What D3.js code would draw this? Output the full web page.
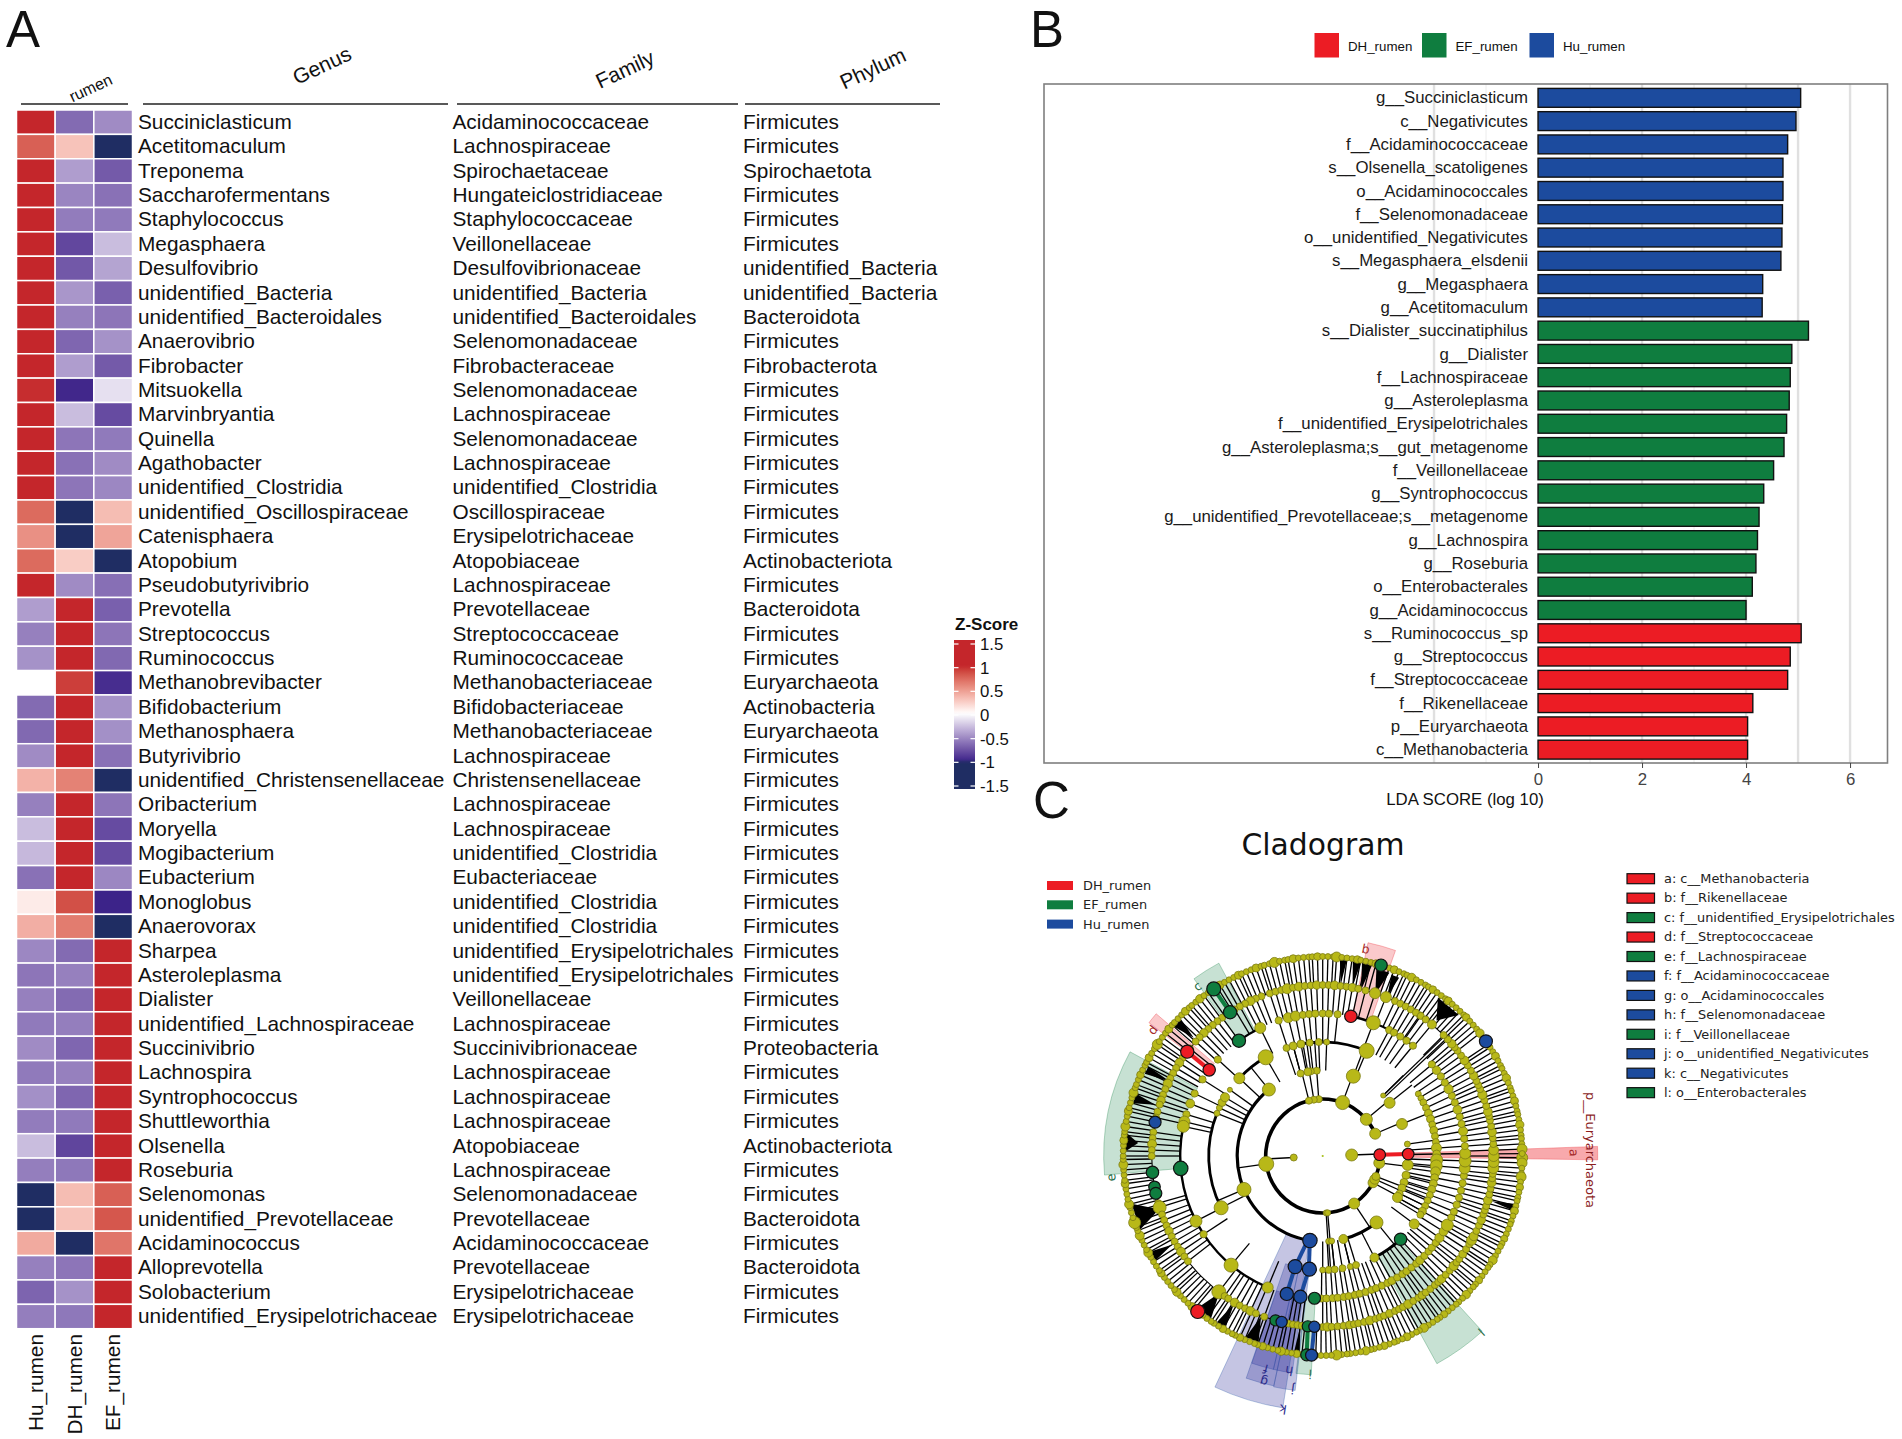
<!DOCTYPE html>
<html><head><meta charset="utf-8">
<script src="https://d3js.org/d3.v7.min.js"></script>
<style>html,body{margin:0;padding:0;background:#fff}svg{display:block}text{font-family:"Liberation Sans",Arial,sans-serif;fill:#111}.dv{font-family:"DejaVu Sans",sans-serif}</style>
</head><body><svg id="c" width="1902" height="1439"></svg>
<script>
// ---------- Panel A data ----------
const samples=["Hu_rumen","DH_rumen","EF_rumen"];
const genus=["Succiniclasticum","Acetitomaculum","Treponema","Saccharofermentans","Staphylococcus","Megasphaera","Desulfovibrio","unidentified_Bacteria","unidentified_Bacteroidales","Anaerovibrio","Fibrobacter","Mitsuokella","Marvinbryantia","Quinella","Agathobacter","unidentified_Clostridia","unidentified_Oscillospiraceae","Catenisphaera","Atopobium","Pseudobutyrivibrio","Prevotella","Streptococcus","Ruminococcus","Methanobrevibacter","Bifidobacterium","Methanosphaera","Butyrivibrio","unidentified_Christensenellaceae","Oribacterium","Moryella","Mogibacterium","Eubacterium","Monoglobus","Anaerovorax","Sharpea","Asteroleplasma","Dialister","unidentified_Lachnospiraceae","Succinivibrio","Lachnospira","Syntrophococcus","Shuttleworthia","Olsenella","Roseburia","Selenomonas","unidentified_Prevotellaceae","Acidaminococcus","Alloprevotella","Solobacterium","unidentified_Erysipelotrichaceae"];
const family=["Acidaminococcaceae","Lachnospiraceae","Spirochaetaceae","Hungateiclostridiaceae","Staphylococcaceae","Veillonellaceae","Desulfovibrionaceae","unidentified_Bacteria","unidentified_Bacteroidales","Selenomonadaceae","Fibrobacteraceae","Selenomonadaceae","Lachnospiraceae","Selenomonadaceae","Lachnospiraceae","unidentified_Clostridia","Oscillospiraceae","Erysipelotrichaceae","Atopobiaceae","Lachnospiraceae","Prevotellaceae","Streptococcaceae","Ruminococcaceae","Methanobacteriaceae","Bifidobacteriaceae","Methanobacteriaceae","Lachnospiraceae","Christensenellaceae","Lachnospiraceae","Lachnospiraceae","unidentified_Clostridia","Eubacteriaceae","unidentified_Clostridia","unidentified_Clostridia","unidentified_Erysipelotrichales","unidentified_Erysipelotrichales","Veillonellaceae","Lachnospiraceae","Succinivibrionaceae","Lachnospiraceae","Lachnospiraceae","Lachnospiraceae","Atopobiaceae","Lachnospiraceae","Selenomonadaceae","Prevotellaceae","Acidaminococcaceae","Prevotellaceae","Erysipelotrichaceae","Erysipelotrichaceae"];
const phylum=["Firmicutes","Firmicutes","Spirochaetota","Firmicutes","Firmicutes","Firmicutes","unidentified_Bacteria","unidentified_Bacteria","Bacteroidota","Firmicutes","Fibrobacterota","Firmicutes","Firmicutes","Firmicutes","Firmicutes","Firmicutes","Firmicutes","Firmicutes","Actinobacteriota","Firmicutes","Bacteroidota","Firmicutes","Firmicutes","Euryarchaeota","Actinobacteria","Euryarchaeota","Firmicutes","Firmicutes","Firmicutes","Firmicutes","Firmicutes","Firmicutes","Firmicutes","Firmicutes","Firmicutes","Firmicutes","Firmicutes","Firmicutes","Proteobacteria","Firmicutes","Firmicutes","Firmicutes","Actinobacteriota","Firmicutes","Firmicutes","Bacteroidota","Firmicutes","Bacteroidota","Firmicutes","Firmicutes"];
const huZ=[1.15,.78,1.15,1.15,1.15,1.1,1.13,1.15,1.15,1.14,1.15,.98,1.05,1.15,1.15,1.15,.73,.55,.73,1.15,-.42,-.55,-.47,0,-.65,-.66,-.5,.38,-.55,-.28,-.3,-.62,.1,.4,-.52,-.6,-.55,-.58,-.5,-.58,-.48,-.57,-.28,-.56,-1.15,-1.15,.42,-.55,-.68,-.56];
const dhZ=[-.65,.3,-.42,-.53,-.57,-.82,-.74,-.45,-.55,-.67,-.42,-.98,-.28,-.6,-.62,-.6,-1.15,-1.15,.25,-.5,1.15,1.15,1.15,.92,1.15,1.15,1.15,.62,1.15,1.08,1.08,1.15,.85,.65,-.65,-.55,-.65,-.56,-.67,-.55,-.67,-.58,-.83,-.59,.33,.3,-1.15,-.6,-.47,-.59];
const efZ=[-.5,-1.15,-.73,-.62,-.58,-.28,-.39,-.7,-.6,-.47,-.73,-.13,-.8,-.58,-.5,-.52,.33,.45,-1.15,-.63,-.7,-.6,-.66,-.95,-.47,-.48,-.62,-1.15,-.6,-.8,-.8,-.52,-1.0,-1.15,1.15,1.15,1.15,1.15,1.15,1.15,1.15,1.15,1.1,1.15,.78,.82,.68,1.15,1.15,1.15];
const zTicks=[1.5,1,.5,0,-.5,-1,-1.5];
// ---------- Panel B data ----------
const ldaNames=["g__Succiniclasticum","c__Negativicutes","f__Acidaminococcaceae","s__Olsenella_scatoligenes","o__Acidaminococcales","f__Selenomonadaceae","o__unidentified_Negativicutes","s__Megasphaera_elsdenii","g__Megasphaera","g__Acetitomaculum","s__Dialister_succinatiphilus","g__Dialister","f__Lachnospiraceae","g__Asteroleplasma","f__unidentified_Erysipelotrichales","g__Asteroleplasma;s__gut_metagenome","f__Veillonellaceae","g__Syntrophococcus","g__unidentified_Prevotellaceae;s__metagenome","g__Lachnospira","g__Roseburia","o__Enterobacterales","g__Acidaminococcus","s__Ruminococcus_sp","g__Streptococcus","f__Streptococcaceae","f__Rikenellaceae","p__Euryarchaeota","c__Methanobacteria"];
const ldaVals=[5.05,4.96,4.80,4.71,4.71,4.70,4.69,4.67,4.32,4.31,5.2,4.88,4.85,4.83,4.78,4.73,4.53,4.34,4.25,4.22,4.19,4.12,4.0,5.06,4.85,4.80,4.13,4.03,4.03];
const ldaGroup=["Hu","Hu","Hu","Hu","Hu","Hu","Hu","Hu","Hu","Hu","EF","EF","EF","EF","EF","EF","EF","EF","EF","EF","EF","EF","EF","DH","DH","DH","DH","DH","DH"];
const groups=["DH","EF","Hu"];
const groupNames=["DH_rumen","EF_rumen","Hu_rumen"];
const groupColors=["#ec1c24","#0f7d3f","#1c4b9e"];
const gridVals=[-2,-1,1,2,3,4,5,6];
// ---------- Panel C data (angles in degrees, clockwise from east) ----------
const cladeLetters=["a","b","c","d","e","f","g","h","i","j","k","l"];
const cladeNames=["c__Methanobacteria","f__Rikenellaceae","f__unidentified_Erysipelotrichales","f__Streptococcaceae","f__Lachnospiraceae","f__Acidaminococcaceae","o__Acidaminococcales","f__Selenomonadaceae","f__Veillonellaceae","o__unidentified_Negativicutes","c__Negativicutes","o__Enterobacterales"];
const cladeGroup=["DH","DH","EF","DH","EF","Hu","Hu","Hu","EF","Hu","Hu","EF"];
const cladeFrom=[358,282,234,217.5,175,103,102,98,93,96.7,99,47.7];
const cladeTo=[360.8,289.5,241.7,220.5,208.4,108.9,109,103,97,102,115,61.2];
const cladeInner=[85.5,142.5,142.5,142.5,142.5,142.5,114,142.5,142.5,114,85.5,114];
const cladeOuter=[275,218,219,219,219,219,235,219,219,236,255,237];
const cladeOpacity=[.38,.24,.23,.24,.23,.27,.27,.27,.23,.27,.27,.23];
const cladeLabelR=[247,210,209,209,208,213,226,210,211,228,249,230];
const cladeLabelA=[358.6,281.6,234.1,217.2,175,105.2,104.8,99,93.3,97.4,99,47.5];
const ringR=[29,57,85.5,114,142.5,171,199.5];
const ringArcs=[[57,7,337,3.6],[85.5,98.6,231,3.2],[85.5,51,76,3.2],[114,153,202,2.8],[114,223,240,2.8],[114,251,293,2.8],[114,47,63,2.8],[114,0,31,1],[142.5,112.7,192,2.4],[142.5,281.4,290.8,2.6],[142.5,290.8,309,2],[142.5,234,244,2.2],[142.5,40,90,1.2],[142.5,320,400,1],[171,0,360,1.1]];
const l1Ang=[358,177], l1Size=[6,3.5];
const l2Ang=[337,320,290.4,266,261,256,172,86.5,85,56.5,28,24,21,7], l2Size=[5.5,6,7,3.5,3.5,3.5,7.5,3,3,5.5,5,5,4,5.5];
const l3Ang=[352,338,321.5,315,291,266,262,260,255,231,157,86,84,76,51,6,13,18,22,26,29], l3Size=[3,5.5,5.5,2.5,7,3.5,3.5,4,3.5,6.5,7,3,3,4.5,6.5,5.5,4,4,4,3.5,5];
const l4Ang=[327,329.5,332,335,338,341,344,347,350,353,356,359,2,5,8,11,14,17,20,23,26,29,31,36.6,63,90,87,84,80,76,73,153,202,205,208,211,215.5,223,240,251.5,255,259,263.5,268,272,292.7];
const l4Size=[3,3,3.5,3.5,4,4,3.5,4,3.5,3.5,5,4,6,6,5,4,4,4,3.5,3.5,3.5,4,3.5,5,4.5,3,3.5,3.5,3.5,3,3.5,7,3,3,4,4.5,2.5,5.5,7.5,3.5,4,4,3.5,3.5,3,7.5];
const l4NoSpoke=[[327,355]];
const l5Ang=[90.5,88.5,86,84,81.5,79.5,77,75,72.5,70,68,65.5,63,61,58.5,56,54,51.5,49,47,44.5,42,40,37.5,35,32,29,25.5,23,20,17,14,11,8,5,2,359,356,353,350,347,344,341,338,335,332,329,326,323,320,252,256,259,262,264.5,267,270,272.5,276,290.8,297.8,300,303,306,309.3,244,222.6,212.5,206,201.6,197,194,192,152.8,146.7,130,112.7];
const l5Big=[[29,6],[5,5.5],[2,6],[359,5.5],[290.8,7],[244,5.5],[194,5.5],[192,6],[152.8,6],[130,7],[112.7,5.5],[259,5],[256,5],[61,4],[47,4.2],[35,4.6],[32,4.4],[350,4.6],[341,4.4],[332,4.6],[323,4.2],[201.6,4.4]];
const l6Ang=[90,88.5,87,85,83,81,79.5,78,76,74,72,70.5,69,67,65,63.5,62,60,58,56,54.5,53,51,49,47.5,46,44,42,40,38.5,37,35,33,31,29.5,28,26,24,22,20,18.5,17,15,13,11,9,7.5,6,4,2,0,358,356,354,352,350,348,346.5,345,343,341,339,337,335.5,334,332,330,328,326,324,322,320.5,319,317,315,309.7,304.6,252,254,256,258,260,262,264,266,268,270,272,274,276,278,280,282,284.5,287.8,291.7,295,297,299,301,303,305,307,249,247,245,243,241,239,234,232,230,228,226,224,222,219,215,213,211,209,207,205,203,201,199,197.5,195,193,188,186,184,182,180,164,162.5,160,158,156,154,152,150,148,146,144,142,127.4,125,123.5,121,119,117,115,113,110,101.5,100,98.5,97];
const l6Big=[[4,5.5],[2,5.5],[0,5.5],[309.7,4.5],[287.8,5.5],[291.7,5.5],[258,5],[162.5,6.5],[127.4,7],[99,4.5],[29.5,5],[88.5,4.2],[81,4],[74,4.4],[67,4],[60,4.4],[54.5,4],[46,4.2],[40,4.6],[35,4],[28,4.4],[22,4.2],[15,4.4],[9,4.4],[358,5],[352,4.4],[345,4.4],[339,4.6],[332,4.2],[326,4.4],[319,4.2],[262,4.4],[268,4.2],[274,4.4],[280,4.2],[245,4.4],[226,4.2],[213,4.4],[205,4.6],[199,4.2],[184,4.5],[154,4.2],[146,4.4],[121,4.4],[115,4.4]];
const l7Ang=[.5,2,3.5,5,6,7.5,9,10.5,12,13,14.5,16,17.5,19,20,21.5,23,24.5,26,27,28.5,30,31.5,33,34,35.5,37,38.5,40,41,42.5,44,45.5,47,48,49.5,51,52.5,54,55,56.5,58,59.5,61,62,63.5,65,66.5,68,69,70.5,72,73.5,75,76,77.5,79,80.5,82,83,84.5,86,87.5,89,90.5,92,96,97.5,99,100.5,102,103,104.5,106,107.5,109,110,111.5,113,114.5,116,117,118.5,120,121.5,123,124,125.5,127,130,131,132.5,134,135.5,137,138,139.5,141,142.5,144,145,146.5,148,149.5,151,152,153.5,155,156.5,158,159,160.5,162,163.5,165,166,167.5,169,170.5,172,173,174.5,176,177.5,179,180,181.5,183,184.5,186,187,188.5,190,191.5,193,194,195.5,197,198.5,200,201,202.5,204,205.5,207,208,209.5,211,212.5,214,215,216.5,218,219.5,221,222,223.5,225,226.5,228,229,230.5,232,233.5,235,238,239,240.5,242,243.5,245,246,247.5,249,250.5,252,253,254.5,256,257.5,259,260,261.5,263,264.5,266,267,268.5,270,271.5,273,274,275.5,277,278.5,280,281,282.5,284,285.5,288,289.5,291,292.5,294,295,296.5,298,299.5,301,302,303.5,305,306.5,308,309,310.5,312,313.5,315,316,317.5,319,320.5,322,326,327,328.5,330,331.5,333,334,335.5,337,338.5,340,341,342.5,344,345.5,347,348,349.5,351,352.5,354,355,356.5,358,359.3];
const l7Big=[[.5,5.5],[2,5],[358,5],[6,5],[9,3.8],[16,4],[24.5,3.6],[31.5,4.4],[38.5,3.8],[44,4.2],[52.5,3.6],[59.5,4.4],[65,4],[72,3.8],[77.5,4.2],[86,5],[97.5,3.8],[102,4.2],[107.5,3.8],[114.5,3.8],[120,3.8],[131,4],[137,4.2],[144,3.8],[151,4.4],[156.5,4.5],[160.5,6],[166,4.5],[172,4],[177.5,4.5],[184.5,4],[188.5,4.5],[193,4],[198.5,4.5],[204,3.8],[209.5,4],[214,5],[219.5,4],[226.5,4],[232,4.2],[239,4],[245,4],[250.5,4],[256,5],[261.5,4],[268.5,3.8],[274,5],[280,3.8],[285.5,4],[291,4],[296.5,4.2],[303.5,3.8],[309,4],[316,3.8],[322,4.2],[330,4],[337,4.2],[344,4],[351,4.2]];
const fans=[[310,4,177,196],[283,1.5,170,197],[288,2,170,195],[292,1.2,172,194],[280,1.2,172,197],[276,1,172,197],[162,4,172,197],[197,1.5,175,197],[206,1.2,170,196],[222.5,1.5,175,197],[149.5,1.5,175,197],[127,2.5,172,197],[111,2,172,197],[121,1.5,172,197],[97.5,.8,172,197],[184,3,185,199],[15,1,175,197]];
const longLinks=[[85.5,315,171,315.5],[85.5,316.5,175,316.5]];
const hitNodes=[[1,358.7,5.8,"DH"],[2,358.7,5.8,"DH"],[2,98.6,7.2,"Hu"],[3,104,7,"Hu"],[3,96.7,7,"Hu"],[4,104.6,6.6,"Hu"],[4,99,6.6,"Hu"],[4,93.3,6,"EF"],[5,106,5.6,"EF"],[5,103.9,5.6,"Hu"],[5,95,5.6,"EF"],[5,92.8,5.6,"Hu"],[6,94.6,6,"EF"],[6,93.2,6,"Hu"],[4,281.4,6.2,"DH"],[6,287,6.2,"EF"],[4,234,6.6,"EF"],[5,237.2,6.6,"EF"],[6,236.9,7,"EF"],[4,217.2,6.2,"DH"],[5,217.6,6.6,"DH"],[4,175,7.2,"EF"],[5,174.5,6.2,"EF"],[5,169.6,5.8,"EF"],[5,167.4,6,"EF"],[5,191.4,6,"Hu"],[6,324.9,6.5,"Hu"],[3,46.9,6.2,"EF"],[6,128.8,7,"DH"]];
const hitLinks=[[57,358.7,85.5,358.7,"DH"],[85.5,98.6,114,97,"Hu"],[85.5,100,114,104,"Hu"],[114,104,142.5,104.6,"Hu"],[114,97,142.5,99,"Hu"],[171,237.2,199.5,236.9,"EF"],[142.5,217.2,171,217.6,"DH"],[171,95,199.5,94.6,"EF"],[171,92.8,199.5,93.2,"Hu"]];

// ---------- drawing ----------
const svg=d3.select("#c");
const groupColor=d3.scaleOrdinal(groups,groupColors);
function addText(sel,x,y,s,size,opt={}){
  const t=sel.append("text").attr("x",x).attr("y",y).text(s).style("font-size",size+"px");
  if(opt.anchor)t.attr("text-anchor",opt.anchor);
  if(opt.cls)t.attr("class",opt.cls);
  if(opt.fill)t.style("fill",opt.fill);
  if(opt.weight)t.style("font-weight",opt.weight);
  if(opt.rot!=null)t.attr("transform",`rotate(${opt.rot} ${x} ${y})`);
  return t;
}
// panel letters
addText(svg,6,46.5,"A",51);addText(svg,1030,46.5,"B",51);addText(svg,1033,818,"C",51);

// A
const zCol=d3.scaleLinear().domain([-1.5,-1.02,-1,0,1,1.5]).range(["#1f2d63","#1f2d63","#3c2389","#ffffff","#c4262b","#c4262b"]).interpolate(d3.interpolateLab).clamp(true);
const hx=d3.scaleBand().domain(samples).range([16.5,132.5]);
const hy=d3.scaleBand().domain(genus).range([110,1328.7]);
const zBySample=[huZ,dhZ,efZ];
const A=svg.append("g");
samples.forEach((s,j)=>{
  A.append("g").selectAll("rect").data(genus).join("rect")
   .attr("x",hx(s)).attr("y",d=>hy(d)).attr("width",hx.bandwidth()).attr("height",hy.bandwidth())
   .attr("fill",(d,i)=>zCol(zBySample[j][i])).attr("stroke","#fff").attr("stroke-width",1.5);
  addText(A,hx(s)+hx.bandwidth()/2+7,1334,s,20.8,{anchor:"end",rot:-90});
});
[[138,genus],[452.5,family],[743,phylum]].forEach(([x,arr])=>{
  A.append("g").selectAll("text").data(arr).join("text")
   .attr("x",x).attr("y",(d,i)=>hy(genus[i])+hy.bandwidth()/2+6.7).text(d=>d).style("font-size","20.8px");
});
[[21,128],[143,448],[457,738],[745,940]].forEach(([a,b])=>A.append("line").attr("x1",a).attr("x2",b).attr("y1",104).attr("y2",104).attr("stroke","#222").attr("stroke-width",1.6));
[["rumen",93,93,16],["Genus",325,72,21],["Family",628,76,21],["Phylum",876,75,21]].forEach(([s,x,y,f])=>addText(A,x,y,s,f,{anchor:"middle",rot:-25}));
// colorbar
const lgY=d3.scaleLinear().domain([1.5,-1.5]).range([644,786]);
const defs=svg.append("defs");
const gr=defs.append("linearGradient").attr("id","zg").attr("x1",0).attr("x2",0).attr("y1",0).attr("y2",1);
d3.range(0,61).forEach(i=>{const v=1.55-i*(3.14/60);gr.append("stop").attr("offset",(i/60*100)+"%").attr("stop-color",zCol(v));});
A.append("rect").attr("x",954).attr("y",640).attr("width",21).attr("height",149).attr("fill","url(#zg)");
zTicks.forEach(v=>{
  [[954,958.5],[970.5,975]].forEach(([a,b])=>A.append("line").attr("x1",a).attr("x2",b).attr("y1",lgY(v)).attr("y2",lgY(v)).attr("stroke","#fff").attr("stroke-width",1.2));
  addText(A,980,lgY(v)+6,d3.format("")(v).replace("−","-"),16.8);
});
addText(A,955,630,"Z-Score",17,{weight:"bold"});

// B
const bx=d3.scaleLinear().domain([-9.5,6.72]).range([1044,1887.5]);
const by=d3.scaleBand().domain(ldaNames).range([86.2,761.3]);
const B=svg.append("g");
B.append("g").selectAll("line").data(gridVals).join("line").attr("x1",d=>bx(d)).attr("x2",d=>bx(d)).attr("y1",84).attr("y2",763)
  .attr("stroke",d=>d%2===0||d===5?"#e0e0e0":"#efefef").attr("stroke-width",d=>d%2===0||d===5?2.4:1.2);
B.append("rect").attr("x",1044).attr("y",84).attr("width",843.5).attr("height",679).attr("fill","none").attr("stroke","#7f7f7f").attr("stroke-width",1.6);
B.append("g").selectAll("rect").data(ldaNames).join("rect")
 .attr("x",bx(0)).attr("y",d=>by(d)+2.2).attr("height",by.bandwidth()-4.4)
 .attr("width",(d,i)=>bx(ldaVals[i])-bx(0)).attr("fill",(d,i)=>groupColor(ldaGroup[i])).attr("stroke","#111").attr("stroke-width",1.4);
B.append("g").selectAll("text").data(ldaNames).join("text").attr("x",1528).attr("y",d=>by(d)+by.bandwidth()/2+5.6).attr("text-anchor","end").text(d=>d).style("font-size","16.8px").style("fill","#1a1a1a");
const bAxis=B.append("g").attr("transform","translate(0,763)").call(d3.axisBottom(bx).tickValues([0,2,4,6]).tickSize(5).tickPadding(5).tickFormat(d3.format("d")));
bAxis.select(".domain").remove();bAxis.selectAll("line").attr("stroke","#444");
bAxis.selectAll("text").style("font-size","16.8px").style("fill","#444").style("font-family","Liberation Sans");
addText(B,1465,805,"LDA SCORE (log 10)",16.8,{anchor:"middle"});
groups.forEach((g,i)=>{
  const xs=[1314.5,1422,1529.5][i];
  B.append("rect").attr("x",xs).attr("y",33).attr("width",24.5).attr("height",24.5).attr("fill",groupColors[i]);
  addText(B,xs+33.5,50.5,groupNames[i],13.3);
});

// C
const cx=1322.7,cy=1156;
const ang=d=>(d+90)*Math.PI/180;
const pt=(r,d)=>{const p=d3.pointRadial(ang(d),r);return [cx+p[0],cy+p[1]];};
const arc=d3.arc();
const C=svg.append("g");
addText(C,1323,855,"Cladogram",29.8,{anchor:"middle",cls:"dv"});
groups.forEach((g,i)=>{
  const y=885.5+i*19.3;
  C.append("rect").attr("x",1047).attr("y",y-4.5).attr("width",26).attr("height",9).attr("fill",groupColors[i]);
  addText(C,1083,y+4.5,groupNames[i],12.9,{cls:"dv",fill:"#222"});
});
const clade=C.append("g").attr("transform",`translate(${cx},${cy})`);
cladeLetters.forEach((l,i)=>{
  clade.append("path").attr("d",arc({innerRadius:cladeInner[i],outerRadius:cladeOuter[i],startAngle:ang(cladeFrom[i]),endAngle:ang(cladeTo[i])}))
   .attr("fill",cladeGroup[i]==="DH"?"#ec1c24":cladeGroup[i]==="EF"?"#0f7d3f":"#2a2a96")
   .attr("fill-opacity",cladeOpacity[i])
   .attr("stroke",groupColor(cladeGroup[i])).attr("stroke-opacity",.3).attr("stroke-width",1);
});
const lineG=C.append("g").attr("stroke","#000").attr("stroke-width",1.3).attr("fill","none");
function spokes(angles,level,noSpoke=[]){
  lineG.append("g").selectAll("line").data(angles.filter(a=>!noSpoke.some(([s,e])=>a>=s&&a<=e))).join("line")
   .attr("x1",d=>pt(ringR[level-1],d)[0]).attr("y1",d=>pt(ringR[level-1],d)[1]).attr("x2",d=>pt(ringR[level],d)[0]).attr("y2",d=>pt(ringR[level],d)[1]);
}
spokes(l1Ang,1);
spokes(l2Ang,2);spokes(l3Ang,3);spokes(l4Ang,3,l4NoSpoke);spokes(l5Ang,4);spokes(l6Ang,5);spokes(l7Ang,6);
longLinks.forEach(([a,b,c,d])=>{const p=pt(a,b),q=pt(c,d);lineG.append("line").attr("x1",p[0]).attr("y1",p[1]).attr("x2",q[0]).attr("y2",q[1]);});
const rings=C.append("g").attr("transform",`translate(${cx},${cy})`);
ringArcs.forEach(([r,a,b,w])=>rings.append("path").attr("d",arc({innerRadius:r-w/2,outerRadius:r+w/2,startAngle:ang(a),endAngle:ang(b)})).attr("fill","#000"));
const radial=d3.line();
fans.forEach(([t,s,r0,r1])=>C.append("path").attr("d",radial([pt(r0,t),pt(r1,t-s),pt(r1,t+s)])+"Z").attr("fill","#000"));
hitLinks.forEach(([a,b,c,d,g])=>{const p=pt(a,b),q=pt(c,d);C.append("line").attr("x1",p[0]).attr("y1",p[1]).attr("x2",q[0]).attr("y2",q[1]).attr("stroke",groupColor(g)).attr("stroke-width",4);});
const nodeG=C.append("g").attr("fill","#b8b818").attr("stroke","#7c7c14").attr("stroke-width",.8);
function nodes(level,angles,sizeOf){
  nodeG.append("g").selectAll("circle").data(angles).join("circle").attr("cx",d=>pt(ringR[level],d)[0]).attr("cy",d=>pt(ringR[level],d)[1]).attr("r",sizeOf);
}
const bigOf=(big,def)=>{const m=new Map(big);return d=>m.get(d)||def;};
nodes(6,l7Ang,bigOf(l7Big,3.0));
nodes(5,l6Ang,bigOf(l6Big,3.5));
nodes(4,l5Ang,bigOf(l5Big,3.6));
nodes(3,l4Ang,(d,i)=>l4Size[i]);
nodes(2,l3Ang,(d,i)=>l3Size[i]);
nodes(1,l2Ang,(d,i)=>l2Size[i]);
nodes(0,l1Ang,(d,i)=>l1Size[i]);
C.append("circle").attr("cx",cx).attr("cy",cy).attr("r",1.1).attr("fill","#a8c01c");
C.append("g").selectAll("circle").data(hitNodes).join("circle").attr("cx",d=>pt(ringR[d[0]],d[1])[0]).attr("cy",d=>pt(ringR[d[0]],d[1])[1]).attr("r",d=>d[2]).attr("fill",d=>groupColor(d[3])).attr("stroke","#111").attr("stroke-width",1.2);
cladeLetters.forEach((l,i)=>{
  const p=pt(cladeLabelR[i],cladeLabelA[i]);
  addText(C,p[0],p[1]+3,l,12.5,{anchor:"middle",cls:"dv",fill:cladeGroup[i]==="DH"?"#a52a2a":cladeGroup[i]==="EF"?"#1f6b45":"#2a2a8a",rot:cladeLabelA[i]+90});
});
addText(C,1586,1150,"p__Euryarchaeota",13,{anchor:"middle",cls:"dv",fill:"#8c1f1f",rot:90});
cladeLetters.forEach((l,i)=>{
  const y=878.7+i*19.45;
  C.append("rect").attr("x",1627).attr("y",y-5).attr("width",27.5).attr("height",10).attr("fill",groupColor(cladeGroup[i])).attr("stroke","#111").attr("stroke-width",1.2);
  addText(C,1664,y+4.3,`${l}: ${cladeNames[i]}`,12.9,{cls:"dv",fill:"#222"});
});
</script></body></html>
